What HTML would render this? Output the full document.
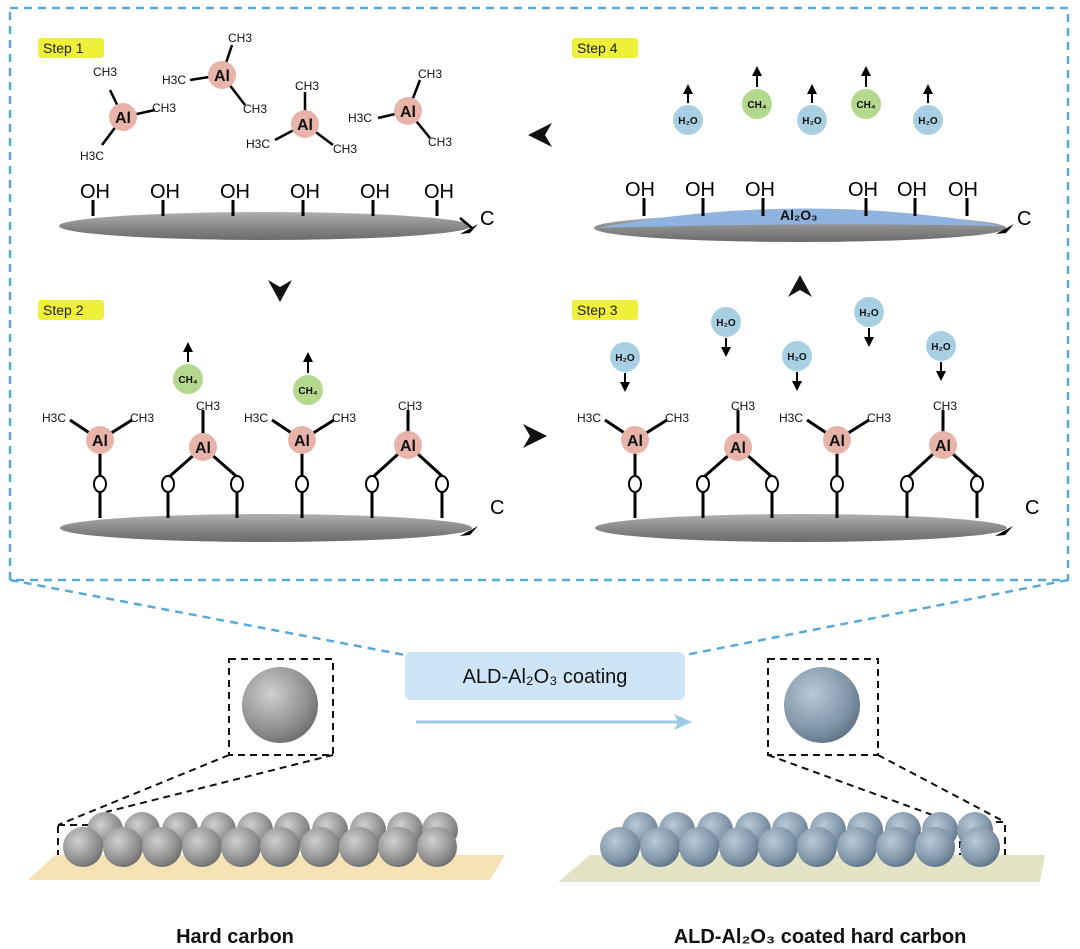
<!DOCTYPE html>
<html><head><meta charset="utf-8"><style>
html,body{margin:0;padding:0;background:#fff}
svg{display:block}
text{font-family:"Liberation Sans",Arial,sans-serif}
</style></head><body>
<svg width="1080" height="949" viewBox="0 0 1080 949" xmlns="http://www.w3.org/2000/svg">
<defs>
<linearGradient id="gs" x1="0" y1="0" x2="0" y2="1"><stop offset="0" stop-color="#b0b0b0"/><stop offset="0.5" stop-color="#8a8a8a"/><stop offset="1" stop-color="#6a6a6a"/></linearGradient>
<radialGradient id="sph" cx="0.38" cy="0.35" r="0.7"><stop offset="0" stop-color="#d0d0d0"/><stop offset="0.7" stop-color="#8f8f8f"/><stop offset="1" stop-color="#6c6c6c"/></radialGradient>
<radialGradient id="sphb" cx="0.38" cy="0.35" r="0.7"><stop offset="0" stop-color="#b9cad8"/><stop offset="0.7" stop-color="#7f95a7"/><stop offset="1" stop-color="#5e7284"/></radialGradient>
<g id="ell"><ellipse cx="0" cy="0" rx="206" ry="14" fill="url(#gs)"/></g>
</defs>
<!-- dashed frame -->
<g stroke="#5aaad8" stroke-width="2.5" stroke-dasharray="8,6" fill="none">
<rect x="10" y="8" width="1058" height="572"/>
<line x1="10" y1="580" x2="405" y2="655"/>
<line x1="1068" y1="580" x2="685" y2="655"/>
</g>
<!-- step labels -->
<g font-size="14" fill="#222">
<rect x="38" y="38" width="66" height="20" rx="3" fill="#eef03a"/><text x="43" y="53">Step 1</text>
<rect x="572" y="38" width="66" height="20" rx="3" fill="#eef03a"/><text x="577" y="53">Step 4</text>
<rect x="38" y="300" width="66" height="20" rx="3" fill="#eef03a"/><text x="43" y="315">Step 2</text>
<rect x="572" y="300" width="66" height="20" rx="3" fill="#eef03a"/><text x="577" y="315">Step 3</text>
</g>
<!-- big arrows -->
<g fill="#111">
<path d="M528,135 L552,123 L545,135 L552,147 Z"/>
<path d="M280,302 L268,280 L280,287 L292,280 Z"/>
<path d="M547,436 L523,424 L530,436 L523,448 Z"/>
<path d="M800,275 L788,297 L800,290 L812,297 Z"/>
</g>
<!-- Step 1 -->
<ellipse cx="265" cy="226" rx="206" ry="14" fill="url(#gs)"/>
<g stroke="#000" stroke-width="3">
<line x1="93" y1="200" x2="93" y2="216"/><line x1="163" y1="200" x2="163" y2="216"/><line x1="233" y1="200" x2="233" y2="216"/><line x1="303" y1="200" x2="303" y2="216"/><line x1="373" y1="200" x2="373" y2="216"/><line x1="437" y1="200" x2="437" y2="216"/>
</g>
<g font-size="20" fill="#000"><text x="80" y="198">OH</text><text x="150" y="198">OH</text><text x="220" y="198">OH</text><text x="290" y="198">OH</text><text x="360" y="198">OH</text><text x="424" y="198">OH</text></g>
<g stroke="#000" stroke-width="2.5" fill="none">
<path d="M460,218 L472,228"/>
<!-- TMA 1 -->
<path d="M123,117 L110,90 M123,117 L155,110 M123,117 L102,145"/>
<path d="M222,75 L232,45 M222,75 L190,80 M222,75 L245,105"/>
<path d="M305,124 L305,92 M305,124 L275,140 M305,124 L333,145"/>
<path d="M408,111 L420,80 M408,111 L378,118 M408,111 L430,138"/>
</g>
<path d="M460,234 L478,224 L470,233 Z" fill="#000"/>
<g fill="#e8b4aa"><circle cx="123" cy="117" r="14"/><circle cx="222" cy="75" r="14"/><circle cx="305" cy="124" r="14"/><circle cx="408" cy="111" r="14"/></g>
<g font-size="16" font-weight="bold" fill="#111" text-anchor="middle"><text x="123" y="123">Al</text><text x="222" y="81">Al</text><text x="305" y="130">Al</text><text x="408" y="117">Al</text></g>
<g font-size="12" fill="#111">
<text x="93" y="76">CH3</text><text x="152" y="112">CH3</text><text x="80" y="160">H3C</text>
<text x="228" y="42">CH3</text><text x="162" y="84">H3C</text><text x="243" y="113">CH3</text>
<text x="295" y="90">CH3</text><text x="246" y="148">H3C</text><text x="333" y="153">CH3</text>
<text x="418" y="78">CH3</text><text x="348" y="122">H3C</text><text x="428" y="146">CH3</text>
</g>
<text x="480" y="225" font-size="20">C</text>
<!-- Step 4 -->
<ellipse cx="800" cy="228" rx="206" ry="14" fill="url(#gs)"/>
<path d="M596,228 Q800,190 1004,226 Q800,222 596,228 Z" fill="#8fb3df"/>
<text x="780" y="220" font-size="14" font-weight="bold" fill="#111">Al₂O₃</text>
<g stroke="#000" stroke-width="3">
<line x1="644" y1="198" x2="644" y2="216"/><line x1="703" y1="198" x2="703" y2="216"/><line x1="763" y1="198" x2="763" y2="216"/><line x1="866" y1="198" x2="866" y2="216"/><line x1="915" y1="198" x2="915" y2="216"/><line x1="967" y1="198" x2="967" y2="216"/>
</g>
<g font-size="20" fill="#000"><text x="625" y="196">OH</text><text x="685" y="196">OH</text><text x="745" y="196">OH</text><text x="848" y="196">OH</text><text x="897" y="196">OH</text><text x="948" y="196">OH</text></g>
<path d="M996,234 L1014,224 L1006,233 Z" fill="#000"/><text x="1017" y="225" font-size="20">C</text>
<!-- molecules step 4 -->
<g fill="#a9d0e2"><circle cx="688" cy="120" r="15"/><circle cx="812" cy="120" r="15"/><circle cx="928" cy="120" r="15"/></g>
<g fill="#b5d88f"><circle cx="757" cy="104" r="15"/><circle cx="866" cy="104" r="15"/></g>
<g stroke="#000" stroke-width="2"><line x1="688" y1="103" x2="688" y2="90"/><line x1="812" y1="103" x2="812" y2="90"/><line x1="928" y1="103" x2="928" y2="90"/><line x1="757" y1="87" x2="757" y2="72"/><line x1="866" y1="87" x2="866" y2="72"/></g>
<g fill="#000"><path d="M688,84 L683,94 L693,94Z"/><path d="M812,84 L807,94 L817,94Z"/><path d="M928,84 L923,94 L933,94Z"/><path d="M757,66 L752,76 L762,76Z"/><path d="M866,66 L861,76 L871,76Z"/></g>
<g font-size="10" font-weight="bold" text-anchor="middle" fill="#111"><text x="688" y="124">H₂O</text><text x="812" y="124">H₂O</text><text x="928" y="124">H₂O</text><text x="757" y="108">CH₄</text><text x="866" y="108">CH₄</text></g>
<!-- Step 2 -->
<g id="s2">
<ellipse cx="266" cy="528" rx="206" ry="14" fill="url(#gs)"/>
<g stroke="#000" stroke-width="3" fill="none">
<path d="M100,440 L70,420 M100,440 L132,420 M100,440 L100,475 M100,492 L100,518"/>
<path d="M203,447 L203,410 M203,447 L170,476 M203,447 L236,476 M168,492 L168,518 M237,492 L237,518"/>
<path d="M302,440 L272,420 M302,440 L334,420 M302,440 L302,475 M302,492 L302,518"/>
<path d="M408,445 L408,410 M408,445 L374,476 M408,445 L442,476 M372,492 L372,518 M442,492 L442,518"/>
</g>
<g fill="#e8b4aa"><circle cx="100" cy="440" r="14"/><circle cx="203" cy="447" r="14"/><circle cx="302" cy="440" r="14"/><circle cx="408" cy="445" r="14"/></g>
<g fill="#fff" stroke="#000" stroke-width="2"><ellipse cx="100" cy="484" rx="6" ry="8"/><ellipse cx="168" cy="484" rx="6" ry="8"/><ellipse cx="237" cy="484" rx="6" ry="8"/><ellipse cx="302" cy="484" rx="6" ry="8"/><ellipse cx="372" cy="484" rx="6" ry="8"/><ellipse cx="442" cy="484" rx="6" ry="8"/></g>
<path d="M460,536 L478,526 L470,535 Z" fill="#000"/>
</g>
<g font-size="16" font-weight="bold" fill="#111" text-anchor="middle"><text x="100" y="446">Al</text><text x="203" y="453">Al</text><text x="302" y="446">Al</text><text x="408" y="451">Al</text></g>
<g font-size="12" fill="#111"><text x="42" y="422">H3C</text><text x="130" y="422">CH3</text><text x="196" y="410">CH3</text><text x="244" y="422">H3C</text><text x="332" y="422">CH3</text><text x="398" y="410">CH3</text></g>
<text x="490" y="514" font-size="20">C</text>
<g fill="#b5d88f"><circle cx="188" cy="379" r="15"/><circle cx="308" cy="390" r="15"/></g>
<g stroke="#000" stroke-width="2"><line x1="188" y1="362" x2="188" y2="350"/><line x1="308" y1="373" x2="308" y2="360"/></g>
<g fill="#000"><path d="M188,342 L183,352 L193,352Z"/><path d="M308,352 L303,362 L313,362Z"/></g>
<g font-size="10" font-weight="bold" text-anchor="middle" fill="#111"><text x="188" y="383">CH₄</text><text x="308" y="394">CH₄</text></g>
<!-- Step 3 -->
<use href="#s2" transform="translate(535,0)"/>
<g font-size="16" font-weight="bold" fill="#111" text-anchor="middle"><text x="635" y="446">Al</text><text x="738" y="453">Al</text><text x="837" y="446">Al</text><text x="943" y="451">Al</text></g>
<g font-size="12" fill="#111"><text x="577" y="422">H3C</text><text x="665" y="422">CH3</text><text x="731" y="410">CH3</text><text x="779" y="422">H3C</text><text x="867" y="422">CH3</text><text x="933" y="410">CH3</text></g>
<text x="1025" y="514" font-size="20">C</text>
<g fill="#a9d0e2"><circle cx="625" cy="357" r="15"/><circle cx="726" cy="322" r="15"/><circle cx="797" cy="356" r="15"/><circle cx="869" cy="312" r="15"/><circle cx="941" cy="346" r="15"/></g>
<g stroke="#000" stroke-width="2"><line x1="625" y1="373" x2="625" y2="384"/><line x1="726" y1="338" x2="726" y2="349"/><line x1="797" y1="372" x2="797" y2="383"/><line x1="869" y1="328" x2="869" y2="339"/><line x1="941" y1="362" x2="941" y2="373"/></g>
<g fill="#000"><path d="M625,392 L620,382 L630,382Z"/><path d="M726,357 L721,347 L731,347Z"/><path d="M797,391 L792,381 L802,381Z"/><path d="M869,347 L864,337 L874,337Z"/><path d="M941,381 L936,371 L946,371Z"/></g>
<g font-size="10" font-weight="bold" text-anchor="middle" fill="#111"><text x="625" y="361">H₂O</text><text x="726" y="326">H₂O</text><text x="797" y="360">H₂O</text><text x="869" y="316">H₂O</text><text x="941" y="350">H₂O</text></g>
<!-- bottom process -->
<rect x="405" y="652" width="280" height="48" rx="6" fill="#cde5f6"/>
<text x="545" y="683" font-size="20" text-anchor="middle" fill="#111">ALD-Al₂O₃  coating</text>
<line x1="416" y1="722" x2="680" y2="722" stroke="#9cc9e6" stroke-width="3"/>
<path d="M692,722 L674,714 L678,722 L674,730Z" fill="#9cc9e6"/>
<!-- left -->
<g stroke="#111" stroke-width="2" stroke-dasharray="7,5" fill="none">
<rect x="229" y="659" width="104" height="96"/>
<line x1="229" y1="755" x2="58" y2="825"/><line x1="333" y1="755" x2="106" y2="812"/>
<rect x="58" y="825" width="48" height="46"/>
<rect x="768" y="659" width="110" height="96"/>
<line x1="768" y1="755" x2="960" y2="825"/><line x1="878" y1="755" x2="1005" y2="822"/>
<rect x="960" y="822" width="45" height="46"/>
</g>
<circle cx="280" cy="705" r="38" fill="url(#sph)"/>
<circle cx="822" cy="705" r="38" fill="url(#sphb)"/>
<polygon points="55,855 505,855 490,880 28,880" fill="#f5e2b5"/>
<polygon points="590,855 1045,855 1040,882 558,882" fill="#e3e3c6"/>
<g fill="url(#sph)">
<circle cx="105" cy="830" r="18"/><circle cx="142" cy="830" r="18"/><circle cx="180" cy="830" r="18"/><circle cx="218" cy="830" r="18"/><circle cx="255" cy="830" r="18"/><circle cx="292" cy="830" r="18"/><circle cx="330" cy="830" r="18"/><circle cx="368" cy="830" r="18"/><circle cx="405" cy="830" r="18"/><circle cx="440" cy="830" r="18"/>
<circle cx="83" cy="847" r="20"/><circle cx="123" cy="847" r="20"/><circle cx="162" cy="847" r="20"/><circle cx="202" cy="847" r="20"/><circle cx="241" cy="847" r="20"/><circle cx="280" cy="847" r="20"/><circle cx="320" cy="847" r="20"/><circle cx="359" cy="847" r="20"/><circle cx="398" cy="847" r="20"/><circle cx="437" cy="847" r="20"/>
</g>
<g fill="url(#sphb)">
<circle cx="640" cy="830" r="18"/><circle cx="677" cy="830" r="18"/><circle cx="715" cy="830" r="18"/><circle cx="753" cy="830" r="18"/><circle cx="790" cy="830" r="18"/><circle cx="828" cy="830" r="18"/><circle cx="865" cy="830" r="18"/><circle cx="903" cy="830" r="18"/><circle cx="940" cy="830" r="18"/><circle cx="975" cy="830" r="18"/>
<circle cx="620" cy="847" r="20"/><circle cx="660" cy="847" r="20"/><circle cx="699" cy="847" r="20"/><circle cx="739" cy="847" r="20"/><circle cx="778" cy="847" r="20"/><circle cx="817" cy="847" r="20"/><circle cx="857" cy="847" r="20"/><circle cx="896" cy="847" r="20"/><circle cx="935" cy="847" r="20"/><circle cx="980" cy="847" r="20"/>
</g>
<text x="235" y="943" font-size="20" font-weight="bold" text-anchor="middle" fill="#111">Hard carbon</text>
<text x="820" y="943" font-size="20" font-weight="bold" text-anchor="middle" fill="#111">ALD-Al₂O₃ coated hard carbon</text>
</svg>
</body></html>
